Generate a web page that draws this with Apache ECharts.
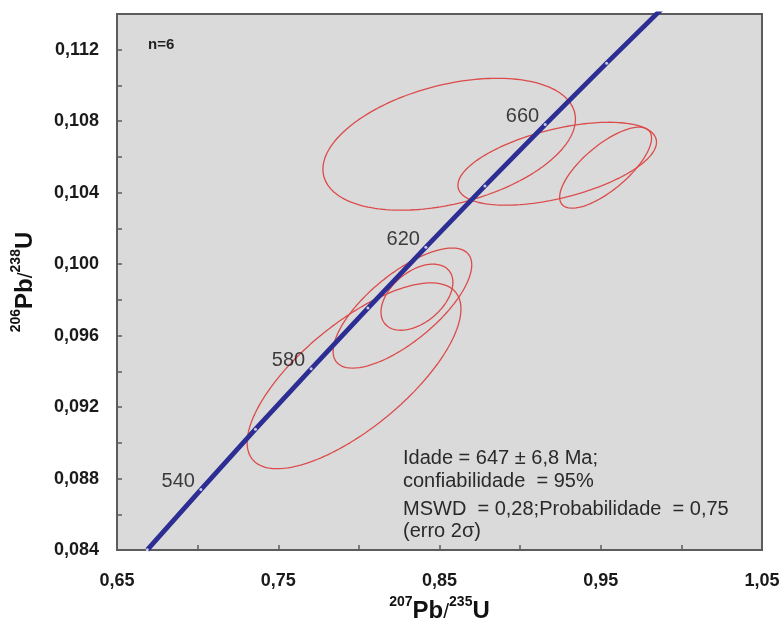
<!DOCTYPE html>
<html>
<head>
<meta charset="utf-8">
<script src="https://cdn.jsdelivr.net/npm/echarts@6/dist/echarts.min.js"></script>
<style>
html,body{margin:0;padding:0;background:#fff;}
#chart{width:783px;height:618px;}
</style>
</head>
<body>
<div id="chart"></div>
<script>
// Concordia marker points (age in Ma, 207Pb/235U, 206Pb/238U)
var ages = [520, 540, 560, 580, 600, 620, 640, 660, 680, 700];
var concX = [0.66877, 0.70203, 0.73588, 0.77041, 0.80563, 0.84155, 0.87818, 0.91554, 0.95365, 0.99251];
var concY = [0.08401, 0.08738, 0.09076, 0.09414, 0.09754, 0.10095, 0.10438, 0.10781, 0.11125, 0.11470];
var labelledAges = [540, 580, 620, 660];

// Error ellipses: centre, half-extent in x and y, correlation
var ellCx  = [0.856, 0.923, 0.953, 0.797, 0.827, 0.836];
var ellCy  = [0.10671, 0.10562, 0.10540, 0.09375, 0.09754, 0.09815];
var ellDx  = [0.0783, 0.0616, 0.0285, 0.0663, 0.0430, 0.0223];
var ellDy  = [0.00369, 0.00232, 0.00227, 0.00520, 0.00336, 0.00185];
var ellRho = [0.38, 0.52, 0.73, 0.72, 0.72, 0.45];

var xTitle = '207Pb/235U';
var yTitle = '206Pb/238U';
var infoLines = ['Idade = 647 \u00b1 6,8 Ma;', 'confiabilidade  = 95%', 'MSWD  = 0,28;Probabilidade  = 0,75', '(erro 2\u03c3)'];
var nText = 'n=6';

var FONT = '"Liberation Sans", Arial, sans-serif';
var chart = echarts.init(document.getElementById('chart'));

function ellipsePoints(i) {
  var pts = [];
  var n = 180;
  var s = Math.sqrt(1 - ellRho[i] * ellRho[i]);
  for (var k = 0; k <= n; k++) {
    var t = 2 * Math.PI * k / n;
    pts.push([ellCx[i] + ellDx[i] * Math.cos(t),
              ellCy[i] + ellDy[i] * (ellRho[i] * Math.cos(t) + s * Math.sin(t))]);
  }
  return pts;
}

var series = [];
for (var i = 0; i < ellCx.length; i++) {
  series.push({
    type: 'line', data: ellipsePoints(i), showSymbol: false, silent: true,
    lineStyle: {color: '#dc4b4b', width: 1.3}, z: 2, animation: false
  });
}
var concData = ages.map(function (a, j) { return [concX[j], concY[j]]; });
series.push({
  type: 'line', data: concData, z: 3, animation: false, silent: true,
  symbol: 'circle', symbolSize: 3, showSymbol: true,
  lineStyle: {color: '#2c2e94', width: 4.8},
  itemStyle: {color: '#c9cbe6', borderWidth: 0}
});
series.push({
  type: 'scatter', z: 4, animation: false, silent: true, symbolSize: 0,
  data: ages.map(function (a, j) { return {value: [concX[j], concY[j]], age: a}; })
            .filter(function (d) { return labelledAges.indexOf(d.age) >= 0; }),
  label: {
    show: true, position: 'left', distance: 6, offset: [0, -8],
    fontFamily: FONT, fontSize: 20, color: '#111111',
    formatter: function (p) { return String(p.data.age); }
  }
});

function richTitle(s) {
  var m = s.match(/^(\d+)(Pb\/)(\d+)(U)$/);
  return '{sup|' + m[1] + '}{main|Pb}{sl|/}{sup|' + m[3] + '}{main|U}';
}
var richStyles = {
  main: {fontFamily: FONT, fontWeight: 'bold', fontSize: 24, color: '#111', lineHeight: 28, verticalAlign: 'bottom'},
  sl: {fontFamily: FONT, fontSize: 21, color: '#111', lineHeight: 28, verticalAlign: 'bottom'},
  sup: {fontFamily: FONT, fontWeight: 'bold', fontSize: 14, color: '#111', lineHeight: 28, verticalAlign: 'top'}
};

var option = {
  backgroundColor: '#ffffff',
  animation: false,
  grid: {left: 117, top: 14, right: 21, bottom: 68, show: true, containLabel: false,
         outerBoundsMode: 'none',
         backgroundColor: '#dadada', borderColor: '#5c5c5c', borderWidth: 2},
  xAxis: {
    type: 'value', min: 0.65, max: 1.05, interval: 0.05,
    name: richTitle(xTitle), nameLocation: 'middle', nameGap: 38,
    nameTextStyle: {rich: richStyles},
    axisLine: {show: true, onZero: false, lineStyle: {color: '#5c5c5c', width: 2}},
    axisTick: {show: true, inside: true, length: 5, lineStyle: {color: '#5c5c5c', width: 1.5}},
    splitLine: {show: false},
    axisLabel: {
      margin: 22, fontFamily: FONT, fontWeight: 'bold', fontSize: 18, color: '#1a1a1a',
      showMinLabel: true, showMaxLabel: true,
      formatter: function (v) {
        return Math.round(v / 0.05) % 2 === 1 ? v.toFixed(2).replace('.', ',') : '';
      }
    }
  },
  yAxis: {
    type: 'value', min: 0.084, max: 0.114, interval: 0.002,
    name: richTitle(yTitle), nameLocation: 'middle', nameGap: 80,
    nameTextStyle: {rich: richStyles},
    axisLine: {show: true, onZero: false, lineStyle: {color: '#5c5c5c', width: 2}},
    axisTick: {show: true, inside: true, length: 5, lineStyle: {color: '#5c5c5c', width: 1.5}},
    splitLine: {show: false},
    axisLabel: {
      margin: 18, fontFamily: FONT, fontWeight: 'bold', fontSize: 18, color: '#1a1a1a',
      formatter: function (v) {
        return Math.round(v / 0.002) % 2 === 0 ? v.toFixed(3).replace('.', ',') : '';
      }
    }
  },
  graphic: [
    {type: 'text', left: 148, top: 37, silent: true,
     style: {text: nText, fontFamily: FONT, fontWeight: 'bold', fontSize: 15, fill: '#222'}},
    {type: 'text', left: 403, top: 448, silent: true,
     style: {text: infoLines[0], fontFamily: FONT, fontSize: 20, fill: '#2a2a2a'}},
    {type: 'text', left: 403, top: 471, silent: true,
     style: {text: infoLines[1], fontFamily: FONT, fontSize: 20, fill: '#2a2a2a'}},
    {type: 'text', left: 403, top: 499, silent: true,
     style: {text: infoLines[2], fontFamily: FONT, fontSize: 20, fill: '#2a2a2a'}},
    {type: 'text', left: 403, top: 521, silent: true,
     style: {text: infoLines[3], fontFamily: FONT, fontSize: 20, fill: '#2a2a2a'}}
  ],
  series: series
};
chart.setOption(option);
</script>
</body>
</html>
